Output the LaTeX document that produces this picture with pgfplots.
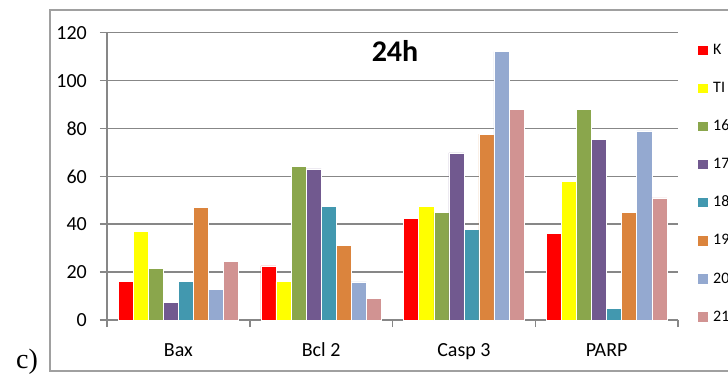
\documentclass[border=0pt]{standalone}
\usepackage{pgfplots}
\pgfplotsset{compat=1.18}
\usepackage{fontspec}
\setmainfont{Carlito}
\newfontfamily\seriffont{Liberation Serif}
\definecolor{cK}{HTML}{FF0000}
\definecolor{cTI}{HTML}{FFFF00}
\definecolor{c16}{HTML}{8AA64C}
\definecolor{c17}{HTML}{71598F}
\definecolor{c18}{HTML}{4298AF}
\definecolor{c19}{HTML}{DB843D}
\definecolor{c20}{HTML}{94A9D0}
\definecolor{c21}{HTML}{D19392}
\definecolor{axgray}{HTML}{878787}
\definecolor{framegray}{HTML}{A0A0A0}
\begin{document}
\begin{tikzpicture}[x=1pt,y=1pt]
\useasboundingbox (0,0) rectangle (728,378);
\draw[framegray, line width=1.2pt] (50,7) rectangle (745,368);
\node[font=\seriffont\fontsize{28}{30}\selectfont, anchor=base west, inner sep=0pt] at (16,9.7) {c)};
\begin{axis}[
  at={(107pt,58pt)}, anchor=south west,
  scale only axis, width=571pt, height=287.3pt,
  xmin=-0.5, xmax=3.5, ymin=0, ymax=120,
  ybar=0pt, bar width=0.1054,
  axis x line*=bottom, axis y line*=left,
  axis line style={axgray, line width=1.5pt},
  ymajorgrids, grid style={axgray, line width=1.5pt},
  ytick={0,20,...,120},
  xtick={0,1,2,3},
  xticklabels={Bax, Bcl 2, Casp 3, PARP},
  x tick style={draw=none},
  y tick style={axgray, line width=1.5pt},
  tick align=outside,
  major tick length=7pt,
  extra x ticks={-0.5,0.5,1.5,2.5,3.5},
  extra x tick labels={},
  extra x tick style={x tick style={axgray, line width=1.5pt, draw=axgray}, major tick length=7pt, grid=none},
  /pgf/number format/assume math mode=true,
  tick label style={font=\fontsize{20}{24}\selectfont},
  yticklabel style={inner sep=0pt, anchor=east, xshift=-13pt},
  xticklabel style={inner sep=0pt, anchor=north, text height=13pt, text depth=0pt, yshift=-16.3pt},
  legend style={at={(1.0333,0.9607)}, anchor=north west, draw=none, fill=none, inner sep=0pt,
    font=\fontsize{16}{18}\selectfont, row sep=26.7pt,
    nodes={inner sep=0pt, text height=10.3pt, text depth=0pt, font=\fontsize{16}{18}\selectfont}},
  /tikz/every odd column/.append style={column sep=5pt},
  legend cell align=left,
  legend image code/.code={\fill[#1] (0pt,-6pt) rectangle (10.5pt,4.3pt);},
  every axis plot/.append style={draw=white, line width=0.5pt},
]
\addplot[fill=cK]  coordinates {(0,16.0) (1,22.6) (2,42.6) (3,36.1)};
\addplot[fill=cTI] coordinates {(0,37.1) (1,16.0) (2,47.5) (3,57.8)};
\addplot[fill=c16] coordinates {(0,21.6) (1,64.3) (2,45.1) (3,88.1)};
\addplot[fill=c17] coordinates {(0,7.4) (1,63.1) (2,69.8) (3,75.6)};
\addplot[fill=c18] coordinates {(0,16.0) (1,47.6) (2,37.7) (3,4.7)};
\addplot[fill=c19] coordinates {(0,47.0) (1,31.3) (2,77.6) (3,45.1)};
\addplot[fill=c20] coordinates {(0,12.8) (1,15.9) (2,112.1) (3,79.0)};
\addplot[fill=c21] coordinates {(0,24.4) (1,9.1) (2,87.9) (3,51.0)};
\legend{K, TI, 16, 17, 18, 19, 20, 21}
\end{axis}
\node[font=\bfseries\fontsize{30}{32}\selectfont, anchor=base, inner sep=0pt] at (395,316.3) {24h};
\end{tikzpicture}
\end{document}
